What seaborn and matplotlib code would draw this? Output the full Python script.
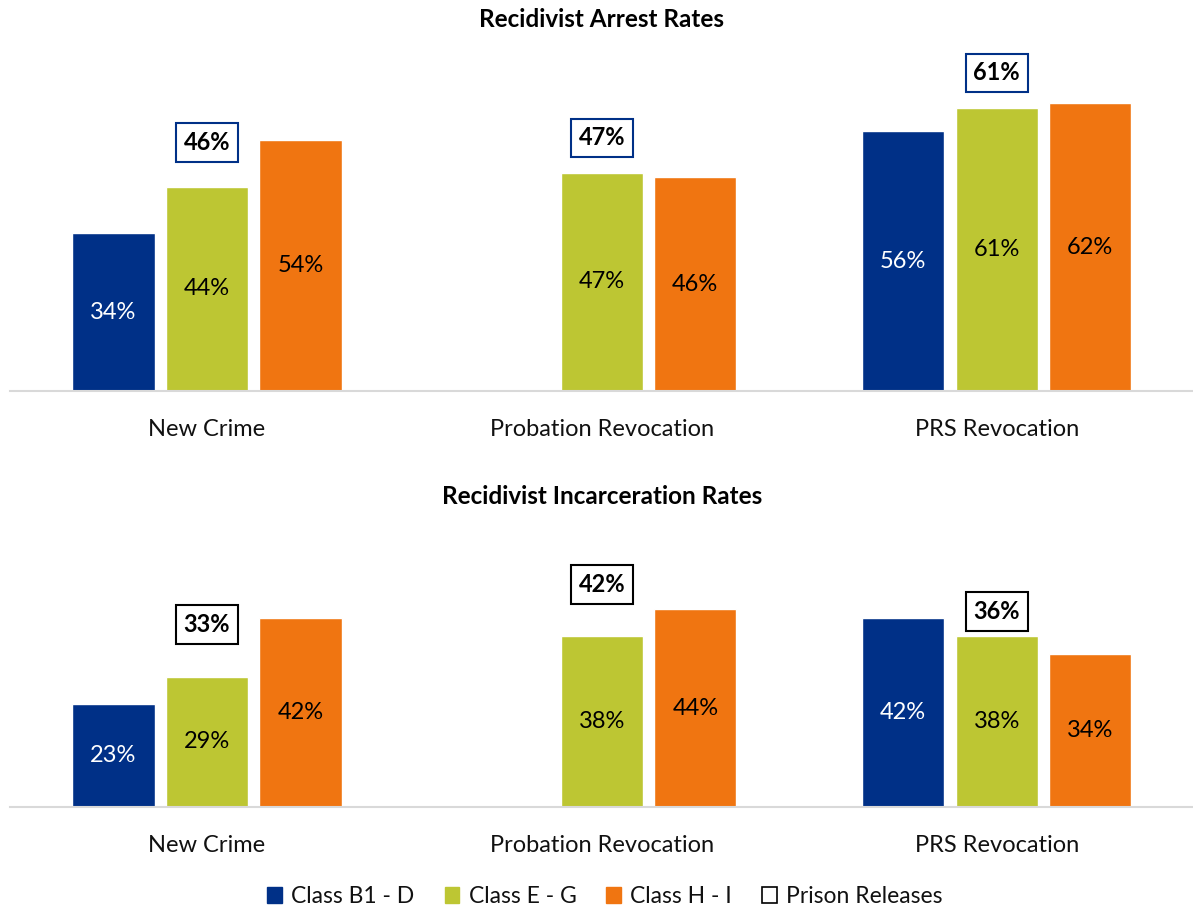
import matplotlib
matplotlib.use("Agg")
import matplotlib.pyplot as plt
import matplotlib.patches as mpatches
import seaborn as sns
import pandas as pd
import numpy as np

categories = ["New Crime", "Probation Revocation", "PRS Revocation"]
classes = ["Class B1 - D", "Class E - G", "Class H - I"]

arrest_b1d = [34, np.nan, 56]
arrest_eg = [44, 47, 61]
arrest_hi = [54, 46, 62]
arrest_prison = [46, 47, 61]

incar_b1d = [23, np.nan, 42]
incar_eg = [29, 38, 38]
incar_hi = [42, 44, 34]
incar_prison = [33, 42, 36]

colors = ["#003087", "#BDC633", "#F07511"]
label_colors = ["white", "black", "black"]

sns.set_theme(style="white")
plt.rcParams["font.family"] = ["Lato", "DejaVu Sans"]
plt.rcParams["text.color"] = "#111111"
plt.rcParams["xtick.color"] = "#111111"
plt.rcParams["axes.labelcolor"] = "#111111"


def make_df(b, e, h):
    rows = []
    for series, cls in zip([b, e, h], classes):
        for cat, v in zip(categories, series):
            rows.append({"category": cat, "cls": cls, "value": v})
    return pd.DataFrame(rows)


fig = plt.figure(figsize=(11.93, 9.13), dpi=100)
ax1 = fig.add_axes([0.008, 0.5717, 0.993, 0.356])
ax2 = fig.add_axes([0.008, 0.1161, 0.993, 0.2957])


def draw(ax, df, prison, title, ymax, box_edge, title_pad):
    sns.barplot(data=df, x="category", y="value", hue="cls", order=categories,
                hue_order=classes, palette=colors, width=0.71, gap=0.12,
                errorbar=None, ax=ax, legend=False, saturation=1)
    ax.set_ylim(0, ymax)
    ax.set_xlim(-0.5, 2.5)
    for cont, lc in zip(ax.containers, label_colors):
        ax.bar_label(cont, fmt="{:.0f}%", label_type="center", color=lc, fontsize=17)
    green = ax.containers[1]
    for patch, pv in zip(green.patches, prison):
        xc = patch.get_x() + patch.get_width() / 2
        ax.text(xc, pv + 7.5, f"{pv}%", ha="center", va="center", fontsize=17,
                fontweight="bold", color="black",
                bbox=dict(boxstyle="square,pad=0.33", facecolor="white",
                          edgecolor=box_edge, linewidth=1.5), clip_on=False)
    for s in ["top", "left", "right"]:
        ax.spines[s].set_visible(False)
    ax.spines["bottom"].set_color("#d9d9d9")
    ax.spines["bottom"].set_linewidth(1.5)
    ax.set_yticks([])
    ax.set_xlabel("")
    ax.set_ylabel("")
    ax.tick_params(axis="x", length=0, labelsize=17, pad=20, labelcolor="#111111")
    ax.set_title(title, fontsize=17.5, fontweight="bold", pad=title_pad, color="black")


draw(ax1, make_df(arrest_b1d, arrest_eg, arrest_hi), arrest_prison,
     "Recidivist Arrest Rates", 70, "#003087", 28)
draw(ax2, make_df(incar_b1d, incar_eg, incar_hi), incar_prison,
     "Recidivist Incarceration Rates", 60, "black", 24)

handles = [mpatches.Patch(facecolor=c, edgecolor=c, label=l) for c, l in zip(colors, classes)]
handles.append(mpatches.Patch(facecolor="white", edgecolor="black", linewidth=1.2, label="Prison Releases"))
fig.legend(handles=handles, loc="center", bbox_to_anchor=(0.507, 0.018), ncol=4,
           frameon=False, fontsize=16.5, handlelength=0.65, handleheight=0.65,
           handletextpad=0.4, columnspacing=1.3, labelcolor="#111111")

fig.savefig("out.png", dpi=100)
